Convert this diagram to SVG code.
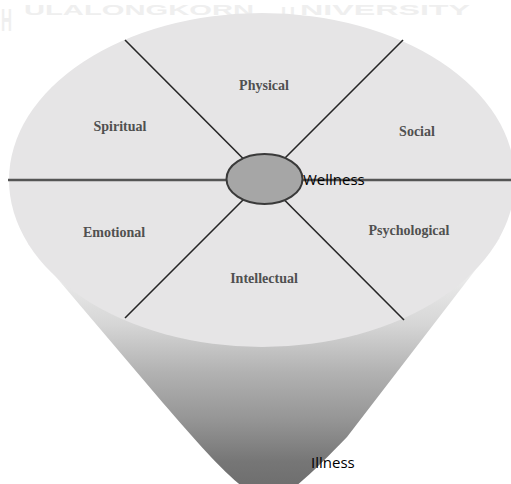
<svg xmlns="http://www.w3.org/2000/svg" width="511" height="484" viewBox="0 0 511 484">
  <defs>
    <linearGradient id="coneGrad" x1="0" y1="0" x2="0" y2="1" gradientUnits="objectBoundingBox">
      <stop offset="0" stop-color="#f6f6f6"/>
      <stop offset="0.25" stop-color="#f2f2f2"/>
      <stop offset="0.45" stop-color="#d6d6d6"/>
      <stop offset="0.6" stop-color="#b2b2b2"/>
      <stop offset="0.75" stop-color="#959595"/>
      <stop offset="0.88" stop-color="#767676"/>
      <stop offset="1" stop-color="#6a6a6a"/>
    </linearGradient>
    <style>
      .wm { font-family: "Liberation Sans", Arial, sans-serif; font-weight: bold; fill: #efefef; }
      .dim { font-family: "Liberation Serif", "Times New Roman", serif; font-weight: bold; font-size: 14px; fill: #505050; text-anchor: middle; }
      .lbl { font-family: "Open Sans", "Noto Sans", sans-serif; font-size: 15px; fill: #000000; }
      .spoke { stroke: #262626; stroke-width: 1.6; fill: none; }
      .axis { stroke: #555555; stroke-width: 2.4; fill: none; }
    </style>
  </defs>
  <rect width="511" height="484" fill="#ffffff"/>

  <g id="watermark">
    <text class="wm" x="1" y="31" font-size="32" textLength="11" lengthAdjust="spacingAndGlyphs">H</text>
    <text class="wm" x="24" y="14.5" font-size="15" textLength="230" lengthAdjust="spacingAndGlyphs">ULALONGKORN</text>
    <text class="wm" x="281" y="21" font-size="21" textLength="14" lengthAdjust="spacingAndGlyphs">U</text>
    <text class="wm" x="300" y="14.5" font-size="15" textLength="170" lengthAdjust="spacingAndGlyphs">NIVERSITY</text>
  </g>

  <g id="cone">
    <path d="M 28,244 L 163,403 C 200,445 245,500 270,500 C 285,500 315,470 347,437 L 500,238 L 262,180 Z" fill="url(#coneGrad)"/>
  </g>

  <g id="top-disk">
    <ellipse cx="262" cy="180" rx="253" ry="167" fill="#e6e5e6"/>
  </g>

  <g id="connectors">
    <line class="axis" x1="8" y1="180" x2="511" y2="180"/>
    <line class="spoke" x1="125" y1="40" x2="404" y2="320"/>
    <line class="spoke" x1="403" y1="40" x2="125" y2="318"/>
  </g>

  <g id="physical"><text class="dim" x="264" y="90">Physical</text></g>
  <g id="spiritual"><text class="dim" x="120" y="131">Spiritual</text></g>
  <g id="social"><text class="dim" x="417" y="136">Social</text></g>
  <g id="emotional"><text class="dim" x="114" y="237">Emotional</text></g>
  <g id="psychological"><text class="dim" x="409" y="235">Psychological</text></g>
  <g id="intellectual"><text class="dim" x="264" y="283">Intellectual</text></g>

  <g id="wellness">
    <ellipse cx="264.5" cy="179" rx="38" ry="25" fill="#a6a6a6" stroke="#3a3a3a" stroke-width="2"/>
    <text class="lbl" x="303" y="185">Wellness</text>
  </g>

  <g id="illness">
    <text class="lbl" x="311" y="468">Illness</text>
  </g>
</svg>
